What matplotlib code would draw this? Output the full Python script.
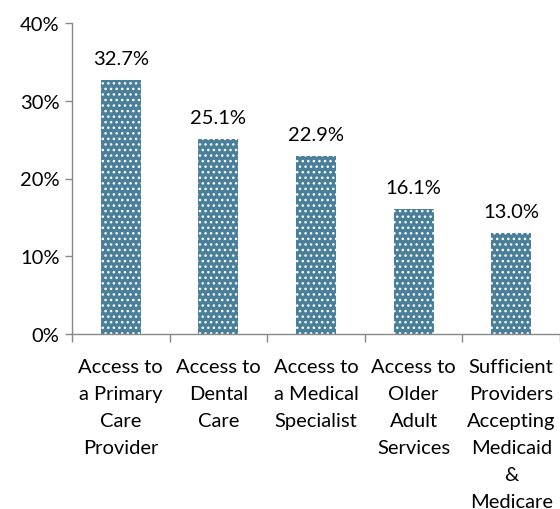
import matplotlib
matplotlib.use("Agg")
import matplotlib.pyplot as plt
from matplotlib.ticker import FuncFormatter, FixedLocator, NullFormatter

categories = ["Access to\na Primary\nCare\nProvider",
              "Access to\nDental\nCare",
              "Access to\na Medical\nSpecialist",
              "Access to\nOlder\nAdult\nServices",
              "Sufficient\nProviders\nAccepting\nMedicaid\n&\nMedicare"]
values = [32.7, 25.1, 22.9, 16.1, 13.0]
yticks = [0, 10, 20, 30, 40]

plt.rcParams['font.family'] = ['Lato', 'DejaVu Sans']
plt.rcParams['hatch.color'] = 'white'
plt.rcParams['hatch.linewidth'] = 1.0

FS = 14.5
fig = plt.figure(figsize=(5.6, 5.1), dpi=100)
ax = fig.add_axes([72/560, 175/510, 488/560, 311/510])

x = list(range(len(values)))
bars = ax.bar(x, values, width=0.41, color='#4A7F9A', edgecolor='white',
              linewidth=0, hatch='...')
for xi, v in zip(x, values):
    ax.annotate(f"{v:.1f}%", (xi, v), xytext=(0, 9), textcoords='offset points',
                ha='center', va='bottom', fontsize=FS, color='black')

ax.set_xlim(-0.5, len(values) - 0.5)
ax.set_ylim(0, 40)
ax.set_yticks(yticks)
ax.yaxis.set_major_formatter(FuncFormatter(lambda v, p: f"{v:.0f}%"))
ax.tick_params(axis='y', labelsize=FS, length=5, color='#888888', width=1, pad=4)

ax.xaxis.set_major_locator(FixedLocator([i - 0.5 for i in range(len(values) + 1)]))
ax.xaxis.set_major_formatter(NullFormatter())
ax.xaxis.set_minor_locator(FixedLocator(x))
ax.set_xticklabels(categories, minor=True)
ax.tick_params(axis='x', which='major', length=6, color='#888888', width=1)
ax.tick_params(axis='x', which='minor', length=0, labelsize=FS, pad=17)
for lbl in ax.get_xticklabels(minor=True):
    lbl.set_linespacing(1.72)

for s in ['top', 'right']:
    ax.spines[s].set_visible(False)
for s in ['left', 'bottom']:
    ax.spines[s].set_color('#888888')
    ax.spines[s].set_linewidth(1)

fig.savefig('out.png', dpi=100)
